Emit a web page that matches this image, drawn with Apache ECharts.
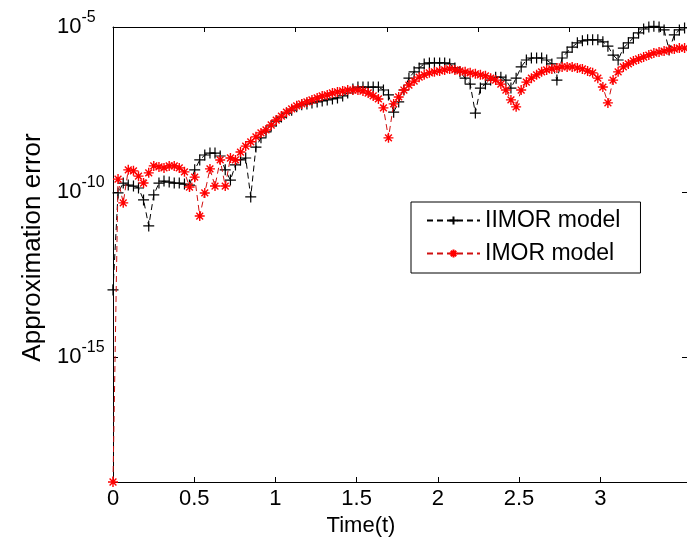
<!DOCTYPE html>
<html>
<head>
<meta charset="utf-8">
<script src="https://cdn.jsdelivr.net/npm/echarts@6/dist/echarts.min.js"></script>
<style>
html,body{margin:0;padding:0;background:#fff;}
#chart{width:687px;height:542px;}
</style>
</head>
<body>
<div id="chart"></div>
<script>
// Time samples (t)
const timeValues = [0, 0.031, 0.063, 0.094, 0.126, 0.157, 0.188, 0.220, 0.251, 0.283, 0.314, 0.346, 0.377, 0.408, 0.440, 0.471, 0.503, 0.534, 0.565, 0.597, 0.628, 0.660, 0.691, 0.723, 0.754, 0.785, 0.817, 0.848, 0.880, 0.911, 0.942, 0.974, 1.005, 1.037, 1.068, 1.100, 1.131, 1.162, 1.194, 1.225, 1.257, 1.288, 1.319, 1.351, 1.382, 1.414, 1.445, 1.477, 1.508, 1.539, 1.571, 1.602, 1.634, 1.665, 1.696, 1.728, 1.759, 1.791, 1.822, 1.854, 1.885, 1.916, 1.948, 1.979, 2.011, 2.042, 2.073, 2.105, 2.136, 2.168, 2.199, 2.231, 2.262, 2.293, 2.325, 2.356, 2.388, 2.419, 2.450, 2.482, 2.513, 2.545, 2.576, 2.608, 2.639, 2.670, 2.702, 2.733, 2.765, 2.796, 2.827, 2.859, 2.890, 2.922, 2.953, 2.985, 3.016, 3.047, 3.079, 3.110, 3.142, 3.173, 3.204, 3.236, 3.267, 3.299, 3.330, 3.362, 3.393, 3.424, 3.456, 3.487, 3.519];

// log10 of approximation error, IIMOR model (black +)
const iimorLog10 = [-12.97, -10.03, -9.73, -9.79, -9.82, -9.88, -10.24, -11.03, -10.09, -9.73, -9.67, -9.70, -9.73, -9.73, -9.76, -9.79, -9.33, -9.03, -8.88, -8.82, -8.82, -8.91, -9.33, -9.64, -9.18, -9.03, -8.97, -10.15, -8.64, -8.36, -8.18, -8.00, -7.85, -7.73, -7.61, -7.52, -7.42, -7.36, -7.33, -7.30, -7.27, -7.24, -7.21, -7.18, -7.15, -7.09, -7.00, -6.88, -6.82, -6.82, -6.82, -6.82, -6.82, -6.91, -7.06, -7.58, -7.27, -6.91, -6.55, -6.36, -6.24, -6.12, -6.09, -6.09, -6.09, -6.09, -6.12, -6.24, -6.36, -6.55, -6.73, -7.61, -6.85, -6.73, -6.61, -6.52, -6.52, -6.61, -6.85, -6.55, -6.21, -6.00, -5.94, -5.94, -5.94, -6.00, -6.12, -6.61, -5.94, -5.76, -5.61, -5.48, -5.42, -5.39, -5.39, -5.39, -5.45, -5.58, -5.85, -6.00, -5.64, -5.48, -5.33, -5.18, -5.06, -5.00, -4.98, -5.00, -5.09, -5.70, -5.24, -5.09, -5.03];

// log10 of approximation error, IMOR model (red *)
const imorLog10 = [-18.79, -9.61, -10.33, -9.33, -9.36, -9.52, -9.73, -9.42, -9.21, -9.24, -9.27, -9.21, -9.21, -9.27, -9.39, -9.85, -9.55, -10.73, -10.03, -9.30, -9.82, -9.03, -9.82, -8.97, -9.03, -8.79, -8.61, -8.48, -8.33, -8.21, -8.12, -7.97, -7.82, -7.70, -7.58, -7.48, -7.39, -7.33, -7.27, -7.21, -7.15, -7.09, -7.06, -7.00, -6.97, -6.94, -6.91, -6.91, -6.91, -6.94, -7.00, -7.09, -7.18, -7.45, -8.36, -7.33, -7.12, -6.91, -6.76, -6.64, -6.52, -6.45, -6.39, -6.36, -6.33, -6.30, -6.27, -6.30, -6.33, -6.36, -6.39, -6.42, -6.45, -6.48, -6.55, -6.61, -6.73, -6.91, -7.21, -7.42, -6.91, -6.67, -6.55, -6.45, -6.36, -6.30, -6.27, -6.24, -6.21, -6.21, -6.21, -6.24, -6.27, -6.33, -6.39, -6.55, -6.82, -7.30, -6.61, -6.36, -6.21, -6.12, -6.03, -5.97, -5.91, -5.85, -5.79, -5.76, -5.73, -5.70, -5.67, -5.64, -5.64];

const seriesNames = ['IIMOR model', 'IMOR model'];
const xTickValues = [0, 0.5, 1, 1.5, 2, 2.5, 3];
const yTickValues = [1e-15, 1e-10, 1e-5];
const xLabel = 'Time(t)';
const yLabel = 'Approximation error';

const FONT = '"Liberation Sans", Arial, Helvetica, sans-serif';
const yMin = Math.pow(10, -18.79);
const yMax = 1e-5;

const iimorData = timeValues.map((t, i) => [t, Math.pow(10, iimorLog10[i])]);
const imorData = timeValues.map((t, i) => [t, Math.pow(10, imorLog10[i])]);

const plusPath = 'path://M0,5L10,5M5,0L5,10';
const starPath = 'path://M5,0L5,10M0,5L10,5M1.6,1.6L8.4,8.4M8.4,1.6L1.6,8.4';

const chart = echarts.init(document.getElementById('chart'), null, {renderer: 'canvas'});
chart.setOption({
  animation: false,
  backgroundColor: '#ffffff',
  grid: {left: 113, top: 27, width: 576, height: 455, containLabel: false},
  legend: {
    orient: 'vertical', left: 411, top: 202,
    padding: [7, 20, 8, 15], itemGap: 10,
    itemWidth: 53, itemHeight: 10,
    backgroundColor: '#ffffff', borderColor: '#000', borderWidth: 1, borderRadius: 0,
    textStyle: {fontFamily: FONT, fontSize: 23, color: '#000'},
    data: seriesNames
  },
  xAxis: [{
    type: 'value', min: 0, max: 3.534, position: 'bottom',
    name: xLabel, nameLocation: 'middle', nameGap: 30,
    nameTextStyle: {fontFamily: FONT, fontSize: 22, color: '#000', padding: [0, 78, 0, 0]},
    axisLine: {show: true, onZero: false, lineStyle: {color: '#000', width: 1}},
    axisTick: {show: true, inside: true, length: 5, customValues: xTickValues, lineStyle: {color: '#000'}},
    axisLabel: {show: true, margin: 6, customValues: xTickValues, fontFamily: FONT, fontSize: 22, color: '#000'},
    splitLine: {show: false}
  }, {
    type: 'value', min: 0, max: 6.288, interval: 1, position: 'top',
    axisLine: {show: true, onZero: false, lineStyle: {color: '#000', width: 1}},
    axisTick: {show: true, inside: true, length: 5, lineStyle: {color: '#000'}},
    axisLabel: {show: false},
    splitLine: {show: false}
  }],
  yAxis: [{
    type: 'log', logBase: 10, min: yMin, max: yMax, position: 'left',
    name: yLabel, nameLocation: 'middle', nameGap: 66, nameRotate: 90,
    nameTextStyle: {fontFamily: FONT, fontSize: 26, color: '#000', padding: [0, 0, 0, 14]},
    axisLine: {show: true, onZero: false, lineStyle: {color: '#000', width: 1}},
    axisTick: {show: true, inside: true, length: 5, customValues: yTickValues, lineStyle: {color: '#000'}},
    axisLabel: {
      show: true, customValues: yTickValues, align: 'left', margin: 56,
      formatter: function (v) { return '{b|10}{s|' + Math.round(Math.log10(v)) + '}'; },
      rich: {
        b: {fontFamily: FONT, fontSize: 22, color: '#000', lineHeight: 34, verticalAlign: 'middle'},
        s: {fontFamily: FONT, fontSize: 16, color: '#000', lineHeight: 14, verticalAlign: 'top'}
      }
    },
    splitLine: {show: false}
  }, {
    type: 'log', logBase: 10, min: yMin, max: yMax, position: 'right',
    axisLine: {show: true, onZero: false, lineStyle: {color: '#000', width: 1}},
    axisTick: {show: true, inside: true, length: 5, customValues: yTickValues, lineStyle: {color: '#000'}},
    axisLabel: {show: false},
    splitLine: {show: false}
  }],
  series: [{
    name: seriesNames[0], type: 'line', xAxisIndex: 0, yAxisIndex: 0,
    data: iimorData, clip: false,
    symbol: plusPath, symbolSize: 11,
    itemStyle: {color: 'rgba(0,0,0,0)', borderColor: '#000', borderWidth: 1.2},
    lineStyle: {color: '#000', width: 1, type: [6, 4]},
    z: 2
  }, {
    name: seriesNames[1], type: 'line', xAxisIndex: 0, yAxisIndex: 0,
    data: imorData, clip: false,
    symbol: starPath, symbolSize: 10,
    itemStyle: {color: 'rgba(0,0,0,0)', borderColor: '#ff0000', borderWidth: 1.4},
    lineStyle: {color: '#d01010', width: 1, type: [6, 4]},
    z: 3
  }]
});
</script>
</body>
</html>
